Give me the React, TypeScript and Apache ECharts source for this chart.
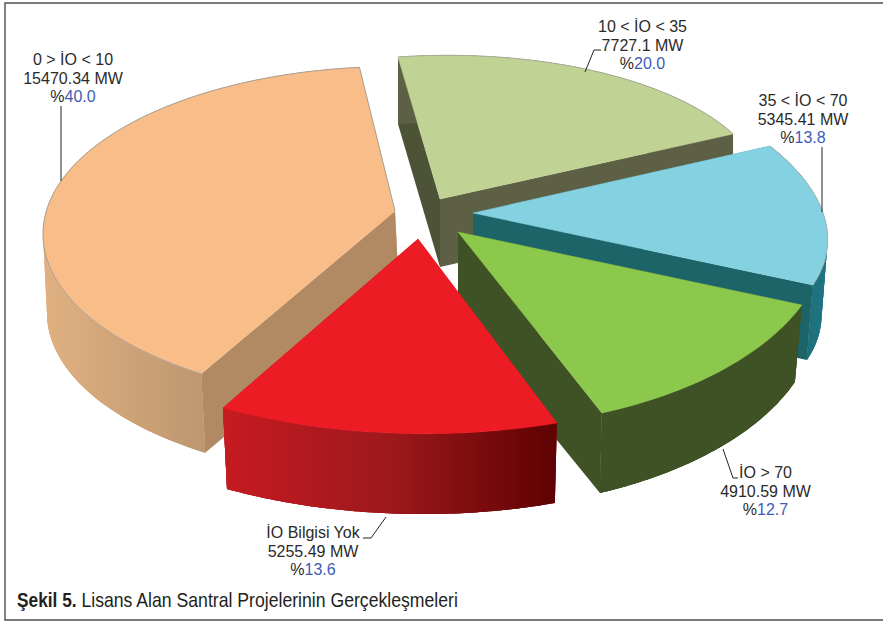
import React, { useEffect, useRef } from "react";
import * as echarts from "echarts";

const categories = ["0 > İO < 10", "10 < İO < 35", "35 < İO < 70", "İO > 70", "İO Bilgisi Yok"];
const valuesMW = [15470.34, 7727.1, 5345.41, 4910.59, 5255.49];
const valueLabels = ["15470.34", "7727.1", "5345.41", "4910.59", "5255.49"];
const percents = ["40.0", "20.0", "13.8", "12.7", "13.6"];
const captionBold = "Şekil 5.";
const captionText = "Lisans Alan Santral Projelerinin Gerçekleşmeleri";

// Painter's order: back slices first.
const drawOrder = [1, 2, 0, 3, 4];

// Each exploded slice has its own projected disc: apex, disc centre offset, cos/sin axes, extrusion.
const frames = [
  { apex: [395, 211], off: [0, 23], a: [352, 0], b: [0, 167.5], rot: -5.8, warp: 0.9786, dStart: [4, 79], dEnd: [4, 79], dApex: [4, 79] },
  { apex: [440, 199], off: [0, 0], a: [322.1, -21.9], b: [42, 142], rot: 0, warp: 1, dStart: [0, 67], dEnd: [0, 67], dApex: [0, 68] },
  { apex: [473, 213], off: [0, 0], a: [342.5, -16.6], b: [91.8, 164.5], rot: 0, warp: 1, dStart: [-6, 75], dEnd: [-6, 75], dApex: [0, 75] },
  { apex: [458, 232], off: [0, 0], a: [363.5, -32.9], b: [65.3, 193], rot: 0, warp: 1, dStart: [-7, 77], dEnd: [-2, 80], dApex: [0, 86] },
  { apex: [418, 239], off: [0, 0], a: [401.4, -21.5], b: [51.5, 193.5], rot: 0, warp: 1, dStart: [-2, 80], dEnd: [4, 81], dApex: [0, 80] },
];

const topColors = ["#f8bd88", "#c0d395", "#84d1e1", "#8cc84b", "#ed1c24"];
const edgeColors = ["#a8a39a", "#a9ad9c", "#a8b5b8", "none", "none"];
const startWallColors = ["#b18a64", "#4d5336", "#1c6468", "#3f5226", "#c21a20"];
const endWallColors = ["#d2a578", "#5e6045", "#1c6468", "#3f5226", "#7a0a0c"];
const outerStops: [number, number, [number, string][]][] = [
  [43, 205, [[0, "#e0b081"], [1, "#bd976f"]]],
  [398, 733, [[0, "#5e6045"], [1, "#5e6045"]]],
  [790, 828, [[0, "#1c6a72"], [1, "#207684"]]],
  [600, 800, [[0, "#3f5226"], [1, "#3f5226"]]],
  [225, 556, [[0, "#c51b21"], [0.5, "#9d181c"], [1, "#5e0202"]]],
];

const leaders = [
  [[61, 106], [61, 181]],
  [[585, 72], [594, 50], [601, 50]],
  [[822, 147], [822, 212]],
  [[723, 449], [733, 478], [738, 478]],
  [[386, 517], [371, 538], [363, 538]],
];
const labelPos = [
  [73, 50],
  [642.5, 17],
  [803, 91],
  [765.5, 463],
  [313, 523],
];

const INK = "#2b2a2a";
const BLUE = "#3d5cb4";
const total = valuesMW.reduce((s, v) => s + v, 0);
const DEG = Math.PI / 180;
const firstStart = 270 - (360 * valuesMW[0]) / total;

function sliceAngles(i: number) {
  let start = firstStart;
  for (let k = 0; k < i; k++) start += (360 * valuesMW[k]) / total;
  return [start, start + (360 * valuesMW[i]) / total];
}

function renderSlice(params: any, api: any) {
  const i = api.value(0) as number;
  const value = api.value(1) as number;
  const f = frames[i];
  const [, end] = sliceAngles(i);
  const sweep = ((360 * value) / total) * f.warp;
  const n = 70;
  const top: number[][] = [];
  const bottom: number[][] = [];
  for (let k = 0; k <= n; k++) {
    const t = k / n;
    const phi = (end + f.rot - (1 - t) * sweep) * DEG;
    const x = f.apex[0] + f.off[0] + f.a[0] * Math.cos(phi) + f.b[0] * Math.sin(phi);
    const y = f.apex[1] + f.off[1] + f.a[1] * Math.cos(phi) + f.b[1] * Math.sin(phi);
    top.push([x, y]);
    bottom.push([
      x + f.dStart[0] + (f.dEnd[0] - f.dStart[0]) * t,
      y + f.dStart[1] + (f.dEnd[1] - f.dStart[1]) * t,
    ]);
  }
  const apexLow = [f.apex[0] + f.dApex[0], f.apex[1] + f.dApex[1]];
  const [gx0, gx1, stops] = outerStops[i];
  const grad = new echarts.graphic.LinearGradient(
    gx0, 0, gx1, 0,
    stops.map(([offset, color]) => ({ offset, color })),
    true
  );
  const poly = (points: number[][], style: any) => ({ type: "polygon", shape: { points }, style, silent: true });
  // The swept wall: one whole outline plus overlapping bands that fill the silhouette where the two arcs cross.
  const bands: any[] = [];
  for (let k = 0; k < n; k += 3) {
    const e = Math.min(n, k + 6);
    bands.push(poly([...top.slice(k, e + 1), ...bottom.slice(k, e + 1).reverse()], { fill: grad }));
  }
  const edge = i === 0 ? [...top, f.apex] : top;
  return {
    type: "group",
    children: [
      poly([f.apex, top[n], bottom[n], apexLow], { fill: endWallColors[i] }),
      poly([f.apex, top[0], bottom[0], apexLow], { fill: startWallColors[i] }),
      poly([...top, ...bottom.slice().reverse()], { fill: grad }),
      ...bands,
      poly([f.apex, ...top], { fill: topColors[i], stroke: topColors[i], lineWidth: 0.5 }),
      {
        type: "polyline",
        shape: { points: edge },
        style: { fill: "none", stroke: edgeColors[i], lineWidth: 1 },
        silent: true,
      },
    ],
  };
}

export default function App() {
  const ref = useRef<HTMLDivElement>(null);
  useEffect(() => {
    document.body.style.margin = "0";
    const chart = echarts.init(ref.current!, undefined, { renderer: "svg" });
    const labelRich = {
      n: { fontFamily: "Liberation Sans", fontSize: 16, lineHeight: 18.7, fill: INK, color: INK },
      b: { fontFamily: "Liberation Sans", fontSize: 16, lineHeight: 18.7, fill: BLUE, color: BLUE },
    };
    const graphics: any[] = [
      {
        type: "polyline",
        shape: { points: [[900, 3], [5, 3], [5, 620], [900, 620]] },
        style: { fill: "none", stroke: "#4d4d4d", lineWidth: 1.4 },
        silent: true,
      },
      ...leaders.map((points) => ({
        type: "polyline",
        shape: { points },
        style: { fill: "none", stroke: "#222", lineWidth: 1 },
        z: 20,
        silent: true,
      })),
      ...categories.map((c, i) => ({
        type: "text",
        x: labelPos[i][0],
        y: labelPos[i][1],
        z: 20,
        style: {
          text: `{n|${c}}\n{n|${valueLabels[i]} MW}\n{n|%}{b|${percents[i]}}`,
          rich: labelRich,
          align: "center",
          verticalAlign: "top",
          fontFamily: "Liberation Sans",
          fontSize: 16,
        },
      })),
      {
        type: "text",
        x: 17,
        y: 600,
        scaleX: 0.865,
        z: 20,
        style: {
          text: `{h|${captionBold}} {r|${captionText}}`,
          rich: {
            h: { fontFamily: "Liberation Sans", fontSize: 20, fontWeight: "bold", fill: "#231f20", color: "#231f20" },
            r: { fontFamily: "Liberation Sans", fontSize: 20.4, fill: "#231f20", color: "#231f20" },
          },
          align: "left",
          verticalAlign: "middle",
          fontFamily: "Liberation Sans",
          fontSize: 20,
        },
      },
    ];
    chart.setOption({
      animation: false,
      backgroundColor: "#ffffff",
      tooltip: { show: false },
      series: [
        {
          type: "custom",
          coordinateSystem: "none",
          clip: false,
          renderItem: renderSlice,
          data: drawOrder.map((i) => ({ name: categories[i], value: [i, valuesMW[i]] })),
          dimensions: ["index", "value"],
          encode: { value: [1] },
          silent: true,
        },
      ],
      graphic: graphics,
    });
    return () => chart.dispose();
  }, []);
  return <div ref={ref} style={{ position: "absolute", left: 0, top: 0, width: 883, height: 623 }} />;
}
